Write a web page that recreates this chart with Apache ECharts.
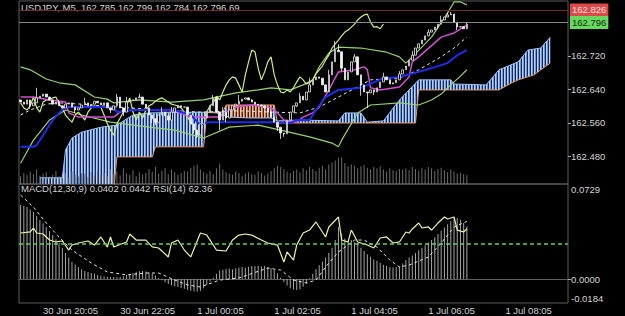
<!DOCTYPE html>
<html>
<head>
<meta charset="utf-8">
<title>USDJPY M5</title>
<script src="https://cdn.jsdelivr.net/npm/echarts@6/dist/echarts.min.js"></script>
<style>
html, body { margin: 0; padding: 0; background: #000; }
#chart { width: 625px; height: 316px; }
</style>
</head>
<body>
<div id="chart"></div>
<script>
// values (5 minute bars from 30 Jun 19:30)
const symbolTitle = 'USDJPY, M5, 162.785 162.799 162.784 162.796 69'
const indicatorTitle = 'MACD(12,30,9) 0.0402 0.0442 RSI(14) 62.36'
const slotCount = 171
const timeTicks = [[7, '30 Jun 20:05'], [31, '30 Jun 22:05'], [55, '1 Jul 00:05'], [79, '1 Jul 02:05'], [103, '1 Jul 04:05'], [127, '1 Jul 06:05'], [151, '1 Jul 08:05']]
const priceTicks = [162.48, 162.56, 162.64, 162.72]
const macdMax = 0.0729
const macdMin = -0.0184
const askPrice = 162.826
const bidPrice = 162.796
const chikouShift = 26

const firstOpen = 162.615
const closes = [
  162.610, 162.605, 162.615, 162.601, 162.608, 162.620, 162.624, 162.629, 162.622, 162.615,
  162.605, 162.610, 162.601, 162.596, 162.605, 162.608, 162.598, 162.591, 162.596, 162.603,
  162.608, 162.601, 162.605, 162.612, 162.608, 162.603,
  162.608, 162.596, 162.591, 162.601, 162.622, 162.596, 162.586, 162.610, 162.615, 162.615,
  162.620, 162.622, 162.605, 162.596, 162.579, 162.570, 162.562, 162.579, 162.586, 162.577,
  162.567, 162.586, 162.596, 162.601, 162.598, 162.598,
  162.579, 162.558, 162.543, 162.531, 162.558, 162.572, 162.586, 162.601, 162.620, 162.586,
  162.567, 162.586, 162.572, 162.591, 162.601, 162.605, 162.612, 162.617, 162.620, 162.615,
  162.610, 162.605, 162.603, 162.601, 162.596, 162.586,
  162.574, 162.562, 162.550, 162.536, 162.534, 162.567, 162.586, 162.601, 162.608, 162.624,
  162.615, 162.634, 162.651, 162.663, 162.670, 162.667, 162.651, 162.634, 162.675, 162.706,
  162.734, 162.730, 162.691, 162.663, 162.682, 162.706,
  162.718, 162.675, 162.651, 162.634, 162.632, 162.639, 162.634, 162.644, 162.658, 162.670,
  162.663, 162.653, 162.656, 162.663, 162.677, 162.687,
  162.696, 162.710, 162.722, 162.739, 162.749, 162.758, 162.768, 162.777, 162.782, 162.789,
  162.796, 162.806, 162.813, 162.818, 162.820, 162.801, 162.789, 162.790, 162.785, 162.796
]
// wicks that reach past the candle body: [bar, price]
const wickHighs = [[5, 162.644], [12, 162.615], [20, 162.620], [30, 162.629], [33, 162.622], [37, 162.630], [44, 162.598], [47, 162.598], [60, 162.627], [63, 162.598], [68, 162.627], [72, 162.617], [87, 162.632], [90, 162.668], [96, 162.687], [98, 162.756], [99, 162.748], [104, 162.725], [113, 162.680], [118, 162.684], [122, 162.732], [127, 162.784], [131, 162.816], [133, 162.824], [134, 162.825], [139, 162.799]]
const wickLows = [[3, 162.594], [17, 162.584], [28, 162.584], [32, 162.577], [41, 162.560], [42, 162.555], [46, 162.560], [54, 162.536], [55, 162.524], [62, 162.543], [64, 162.562], [80, 162.541], [81, 162.522], [82, 162.527], [86, 162.598], [100, 162.684], [106, 162.625], [108, 162.596], [110, 162.627], [124, 162.740], [130, 162.784], [136, 162.782], [139, 162.784]]
const volumes = [
  60, 85, 70, 95, 75, 110, 65, 80, 90, 55, 70, 100, 60, 75, 85, 50, 95, 70, 60, 80,
  75, 55, 90, 65, 100, 70, 85, 60, 110, 75, 95, 65, 120, 80, 70, 105, 60, 90, 75, 85,
  115, 95, 130, 80, 100, 120, 75, 110, 90, 70, 85, 100, 95, 125, 140, 150, 110, 90, 80, 100,
  75, 120, 155, 110, 90, 80, 70, 95, 85, 60, 80, 90, 75, 70, 95, 85, 65, 80, 100, 120,
  140, 130, 115, 95, 85, 100, 110, 90, 120, 105, 130, 115, 100, 125, 140, 110, 150, 165, 180, 200,
  205, 160, 135, 150, 140, 120, 135, 145, 125, 110, 130, 120, 135, 110, 95, 120, 105, 100, 115, 110,
  120, 105, 130, 115, 100, 125, 110, 130, 120, 100, 115, 125, 105, 90, 110, 95, 80, 85, 75, 69
]

// indicator lines, [bar, value]
const bbUpper = [[0, 162.694], [3, 162.687], [8, 162.665], [12, 162.656], [17, 162.651], [23, 162.622], [27, 162.617], [29, 162.608], [37, 162.615], [47, 162.610], [57, 162.615], [67, 162.632], [74, 162.639], [78, 162.644], [84, 162.639], [88, 162.651], [91, 162.663], [93, 162.694], [96, 162.727], [99, 162.741], [106, 162.739], [114, 162.729], [118, 162.718], [120, 162.703], [122, 162.718], [128, 162.765], [133, 162.823], [135, 162.849], [137, 162.849], [139, 162.842]]
const bbLower = [[0, 162.464], [4, 162.519], [9, 162.567], [14, 162.591], [19, 162.579], [28, 162.562], [40, 162.550], [48, 162.543], [57, 162.524], [65, 162.550], [74, 162.555], [81, 162.543], [90, 162.527], [97, 162.512], [99, 162.503], [100, 162.519], [105, 162.584], [109, 162.603], [118, 162.608], [124, 162.603], [128, 162.615], [131, 162.629], [134, 162.651], [137, 162.672], [139, 162.687]]
const bbMiddle = [[0, 162.579], [3, 162.591], [8, 162.605], [12, 162.608], [19, 162.605], [25, 162.601], [34, 162.596], [43, 162.591], [56, 162.586], [68, 162.589], [78, 162.586], [87, 162.584], [93, 162.598], [99, 162.622], [109, 162.663], [118, 162.667], [124, 162.687], [131, 162.718], [135, 162.739], [139, 162.765]]
const tenkan = [[0, 162.622], [4, 162.622], [9, 162.615], [14, 162.610], [15, 162.584], [18, 162.574], [29, 162.574], [31, 162.586], [35, 162.591], [48, 162.589], [53, 162.574], [62, 162.574], [64, 162.586], [67, 162.598], [72, 162.603], [78, 162.596], [80, 162.584], [82, 162.567], [86, 162.562], [88, 162.574], [91, 162.584], [93, 162.598], [96, 162.639], [99, 162.682], [104, 162.687], [107, 162.694], [108, 162.687], [109, 162.644], [112, 162.639], [118, 162.646], [121, 162.670], [122, 162.706], [124, 162.718], [131, 162.765], [135, 162.775], [138, 162.789], [139, 162.794]]
const kijun = [[0, 162.503], [4, 162.503], [5, 162.507], [10, 162.567], [12, 162.584], [14, 162.598], [29, 162.598], [30, 162.586], [35, 162.591], [48, 162.591], [53, 162.579], [56, 162.555], [58, 162.562], [81, 162.562], [84, 162.560], [86, 162.567], [90, 162.567], [92, 162.591], [95, 162.622], [99, 162.639], [106, 162.644], [113, 162.667], [118, 162.670], [124, 162.682], [128, 162.691], [133, 162.703], [136, 162.722], [139, 162.734]]
const senkouA = [[6, 162.429], [13, 162.429], [14, 162.496], [16, 162.524], [19, 162.538], [25, 162.550], [30, 162.555], [35, 162.579], [40, 162.584], [56, 162.586], [61, 162.584], [65, 162.574], [71, 162.572], [78, 162.572], [80, 162.565], [87, 162.567], [99, 162.565], [101, 162.584], [106, 162.584], [108, 162.562], [113, 162.565], [118, 162.615], [124, 162.663], [134, 162.663], [135, 162.653], [145, 162.651], [149, 162.687], [155, 162.706], [158, 162.734], [162, 162.739], [165, 162.765]]
const senkouB = [[6, 162.40], [29, 162.40], [30, 162.479], [41, 162.479], [42, 162.503], [57, 162.503], [58, 162.586], [63, 162.586], [64, 162.603], [79, 162.603], [80, 162.560], [123, 162.560], [124, 162.639], [149, 162.639], [153, 162.656], [155, 162.663], [160, 162.675], [162, 162.687], [165, 162.703]]
const bearRange = [64, 79]

const macdHist = [
  0.0568, 0.0560, 0.0552, 0.0533, 0.0514, 0.0484, 0.0453, 0.0426, 0.0399, 0.0368,
  0.0337, 0.0306, 0.0276, 0.0238, 0.0199, 0.0165, 0.0130, 0.0111, 0.0092, 0.0075,
  0.0062, 0.0054, 0.0046, 0.0040, 0.0031, 0.0025, 0.0020, 0.0018, 0.0015, 0.0015,
  0.0016, 0.0018, 0.0022, 0.0030, 0.0038, 0.0046, 0.0054, 0.0060, 0.0062, 0.0058,
  0.0050, 0.0040, 0.0025, 0.0008, -0.0010, -0.0025, -0.0038, -0.0048, -0.0056, -0.0062,
  -0.0068, -0.0075, -0.0082, -0.0090, -0.0095, -0.0098, -0.0092, -0.0070, -0.0045, -0.0020,
  0.0010, 0.0040, 0.0065, 0.0072, 0.0078, 0.0080, 0.0075, 0.0082, 0.0088, 0.0092,
  0.0086, 0.0095, 0.0100, 0.0098, 0.0102, 0.0096, 0.0100, 0.0092, 0.0085, 0.0070,
  0.0045, 0.0010, -0.0025, -0.0050, -0.0070, -0.0080, -0.0084, -0.0078, -0.0060, -0.0035,
  0.0005, 0.0040, 0.0075, 0.0105, 0.0135, 0.0165, 0.0200, 0.0240, 0.0300, 0.0399,
  0.0350, 0.0310, 0.0290, 0.0300, 0.0280, 0.0276, 0.0240, 0.0215, 0.0190, 0.0170,
  0.0150, 0.0140, 0.0125, 0.0110, 0.0100, 0.0092, 0.0088, 0.0090, 0.0095, 0.0120,
  0.0146, 0.0165, 0.0180, 0.0200, 0.0220, 0.0240, 0.0260, 0.0280, 0.0299, 0.0320,
  0.0345, 0.0370, 0.0395, 0.0420, 0.0445, 0.0470, 0.0468, 0.0455, 0.0430, 0.0402
]
const macdSignal = [[0, 0.0644], [4, 0.0552], [8, 0.0430], [12, 0.0322], [16, 0.0222], [22, 0.0123], [27, 0.0054], [33, 0.0031], [39, 0.0046], [43, 0.0046], [48, -0.0008], [52, -0.0046], [56, -0.0061], [62, -0.0008], [68, 0.0008], [77, 0.0084], [81, 0.0069], [85, -0.0008], [89, -0.0031], [92, -0.0008], [95, 0.0092], [99, 0.0207], [104, 0.0299], [107, 0.0299], [111, 0.0245], [115, 0.0146], [118, 0.0092], [121, 0.0107], [127, 0.0169], [131, 0.0276], [135, 0.0399], [139, 0.0442]]
const rsi = [[0, 58.8], [3, 59.7], [4, 63.0], [5, 58.8], [7, 58.0], [9, 52.9], [11, 51.3], [13, 52.1], [15, 44.5], [16, 48.7], [18, 50.4], [21, 52.1], [23, 48.7], [25, 55.5], [27, 47.1], [28, 55.5], [29, 47.1], [33, 51.3], [34, 58.0], [36, 52.9], [39, 52.9], [41, 47.1], [43, 46.2], [46, 38.7], [47, 50.4], [49, 52.9], [51, 44.5], [53, 38.7], [56, 58.8], [58, 57.1], [61, 44.5], [64, 43.7], [66, 52.9], [68, 57.1], [70, 58.0], [72, 57.1], [75, 52.9], [77, 50.4], [80, 48.7], [82, 34.5], [83, 42.9], [85, 36.1], [86, 48.7], [88, 58.8], [90, 61.3], [92, 68.1], [95, 55.5], [96, 63.9], [99, 72.3], [100, 52.9], [102, 51.3], [103, 61.3], [105, 51.3], [108, 48.7], [110, 46.2], [112, 54.6], [114, 55.5], [116, 50.4], [118, 51.3], [120, 59.7], [121, 58.8], [122, 62.2], [124, 67.2], [125, 63.0], [127, 63.9], [128, 61.3], [130, 67.2], [132, 72.3], [133, 70.6], [135, 72.3], [136, 61.3], [138, 59.7], [139, 62.36]]
const rsiLevel = 50

// ---- build ----
let candles = closes.map((c, i) => {
  let o = i === 0 ? firstOpen : closes[i - 1]
  return [o, c, Math.min(o, c), Math.max(o, c)]
})
wickHighs.forEach(([i, p]) => { candles[i][3] = Math.max(candles[i][3], p) })
wickLows.forEach(([i, p]) => { candles[i][2] = Math.min(candles[i][2], p) })
let chikou = closes.slice(chikouShift).map((c, i) => [i, c])

let slots = []
for (let i = 0; i < slotCount; i++) slots.push(String(i))
let tickMap = {}
timeTicks.forEach(([i, t]) => { tickMap[i] = t })

function stripes (cols) {
  let cv = document.createElement('canvas')
  cv.width = cols.length
  cv.height = 1
  let ctx = cv.getContext('2d')
  cols.forEach((c, k) => { ctx.fillStyle = c; ctx.fillRect(k, 0, 1, 1) })
  return { image: cv.toDataURL(), repeat: 'repeat', imageWidth: cols.length, imageHeight: 1 }
}
const bluePattern = stripes(['#b9d2f6', '#6f98dc', '#14265c'])
const orangePattern = stripes(['#f2bd94', '#c27a52', '#3a1f12'])

function cloudItem (params, api) {
  let cs = params.coordSys
  let bottom = cs.y + cs.height
  let pt = ([i, p]) => { let c = api.coord([i, p]); return [c[0], Math.min(c[1], bottom)] }
  let inBear = ([i]) => i >= bearRange[0] && i <= bearRange[1]
  let bull = senkouA.map(pt).concat(senkouB.slice().reverse().map(pt))
  let bear = senkouB.filter(inBear).map(pt).concat(senkouA.filter(inBear).reverse().map(pt))
  return {
    type: 'group',
    children: [
      { type: 'polygon', shape: { points: bull }, style: { fill: bluePattern } },
      { type: 'polygon', shape: { points: bear }, style: { fill: orangePattern } }
    ]
  }
}

const font = '"Liberation Sans", Arial, sans-serif'
const txt = '#d4d4d4'
const frame = '#5e5e5e'

function line (name, data, color, width, yIdx, xIdx, dashed) {
  return {
    name: name,
    type: 'line',
    xAxisIndex: xIdx || 0,
    yAxisIndex: yIdx || 0,
    data: data,
    symbol: 'none',
    z: 3,
    lineStyle: { color: color, width: width, type: dashed ? [3, 3] : 'solid' }
  }
}

// one right-hand label axis per macd value, so the end labels can sit inside the panel
function macdAxis (value, vAlign, tick) {
  return {
    type: 'value',
    gridIndex: 1,
    position: 'right',
    min: macdMin,
    max: macdMax,
    splitLine: { show: false },
    axisLine: { show: false },
    axisTick: { show: tick, customValues: [value], length: 3, lineStyle: { color: '#aaa' } },
    axisLabel: { customValues: [value], formatter: (v) => v.toFixed(4), color: txt, fontSize: 9.5, margin: 3, verticalAlign: vAlign }
  }
}

let Chart = echarts.init(document.getElementById('chart'), null, { renderer: 'svg' })
Chart.setOption({
  backgroundColor: '#000',
  animation: false,
  textStyle: { fontFamily: font },
  graphic: [
    { type: 'text', left: 21, top: 2, style: { text: symbolTitle, fill: txt, font: '9.5px ' + font } },
    { type: 'text', left: 21, top: 183, z: 20, style: { text: indicatorTitle, fill: txt, font: '9.5px ' + font } }
  ],
  grid: [
    { left: 19, right: 57, top: 1, height: 183, show: true, borderColor: frame, borderWidth: 1, backgroundColor: 'transparent' },
    { left: 19, right: 57, top: 184, height: 119, show: true, borderColor: frame, borderWidth: 1, backgroundColor: 'transparent' }
  ],
  xAxis: [
    { type: 'category', gridIndex: 0, data: slots, axisLine: { show: false }, axisTick: { show: false }, axisLabel: { show: false } },
    {
      type: 'category',
      gridIndex: 1,
      data: slots,
      axisLine: { lineStyle: { color: frame } },
      axisTick: { alignWithLabel: true, interval: (i) => tickMap[i] !== undefined, length: 3, lineStyle: { color: '#aaa' } },
      axisLabel: {
        interval: (i) => tickMap[i] !== undefined,
        formatter: (v, i) => tickMap[i] || '',
        align: 'left',
        color: txt,
        fontSize: 9.5,
        margin: 2
      }
    }
  ],
  yAxis: [
    {
      type: 'value',
      gridIndex: 0,
      position: 'right',
      min: 162.4143,
      max: 162.8513,
      splitLine: { show: false },
      axisLine: { show: false },
      axisTick: { show: true, customValues: priceTicks, length: 3, lineStyle: { color: '#aaa' } },
      axisLabel: { customValues: priceTicks, formatter: (v) => v.toFixed(3), color: txt, fontSize: 9.5, margin: 3 }
    },
    { type: 'value', gridIndex: 0, min: 0, max: 1400, show: false, splitLine: { show: false } },
    macdAxis(0, 'middle', true),
    { type: 'value', gridIndex: 1, min: 0, max: 100, show: false, splitLine: { show: false } },
    macdAxis(macdMax, 'top', false),
    macdAxis(macdMin, 'bottom', false)
  ],
  series: [
    {
      name: 'cloud',
      type: 'custom',
      xAxisIndex: 0,
      yAxisIndex: 0,
      z: 1,
      silent: true,
      renderItem: cloudItem,
      data: [[0, 162.6]]
    },
    {
      name: 'volume',
      type: 'bar',
      xAxisIndex: 0,
      yAxisIndex: 1,
      data: volumes,
      barWidth: 1,
      z: 2,
      itemStyle: { color: '#6c6c6c' }
    },
    line('senkouA', senkouA, '#9cc4f4', 1),
    line('senkouB', senkouB, '#e89a68', 1),
    line('bbUpper', bbUpper, '#96d26c', 1.2),
    line('bbLower', bbLower, '#96d26c', 1.2),
    line('bbMiddle', bbMiddle, '#e6e6e6', 1, 0, 0, true),
    line('chikou', chikou, '#cdee80', 1.2),
    line('tenkan', tenkan, '#d24ed2', 1.5),
    line('kijun', kijun, '#1c2ef0', 2),
    {
      name: 'USDJPY',
      type: 'candlestick',
      xAxisIndex: 0,
      yAxisIndex: 0,
      data: candles,
      barWidth: 2,
      z: 4,
      itemStyle: { color: '#000000', color0: '#f2f2f2', borderColor: '#e8e8e8', borderColor0: '#f2f2f2', borderWidth: 0.8 },
      markLine: {
        silent: true,
        symbol: 'none',
        data: [
          {
            yAxis: askPrice,
            lineStyle: { color: '#7a2a2a', width: 1, type: 'solid' },
            label: { position: 'end', distance: 2, formatter: askPrice.toFixed(3), backgroundColor: '#e04848', color: '#fde4e4', padding: [2, 2, 1, 2], fontSize: 9.5 }
          },
          {
            yAxis: bidPrice,
            lineStyle: { color: '#8a8a8a', width: 1, type: 'solid' },
            label: { position: 'end', distance: 2, formatter: bidPrice.toFixed(3), backgroundColor: '#66d95e', color: '#0c2a0c', padding: [2, 2, 1, 2], fontSize: 9.5 }
          }
        ]
      }
    },
    {
      name: 'MACD',
      type: 'bar',
      xAxisIndex: 1,
      yAxisIndex: 2,
      data: macdHist,
      barWidth: 1,
      itemStyle: { color: '#a6a6a6' }
    },
    line('signal', macdSignal, '#e2e2e2', 1, 2, 1, true),
    Object.assign(line('RSI', rsi, '#eef3a4', 1.2, 3, 1), {
      markLine: {
        silent: true,
        symbol: 'none',
        label: { show: false },
        data: [{ yAxis: rsiLevel }],
        lineStyle: { color: '#5fcf5f', width: 1.5, type: [4, 3] }
      }
    })
  ]
})
</script>
</body>
</html>
